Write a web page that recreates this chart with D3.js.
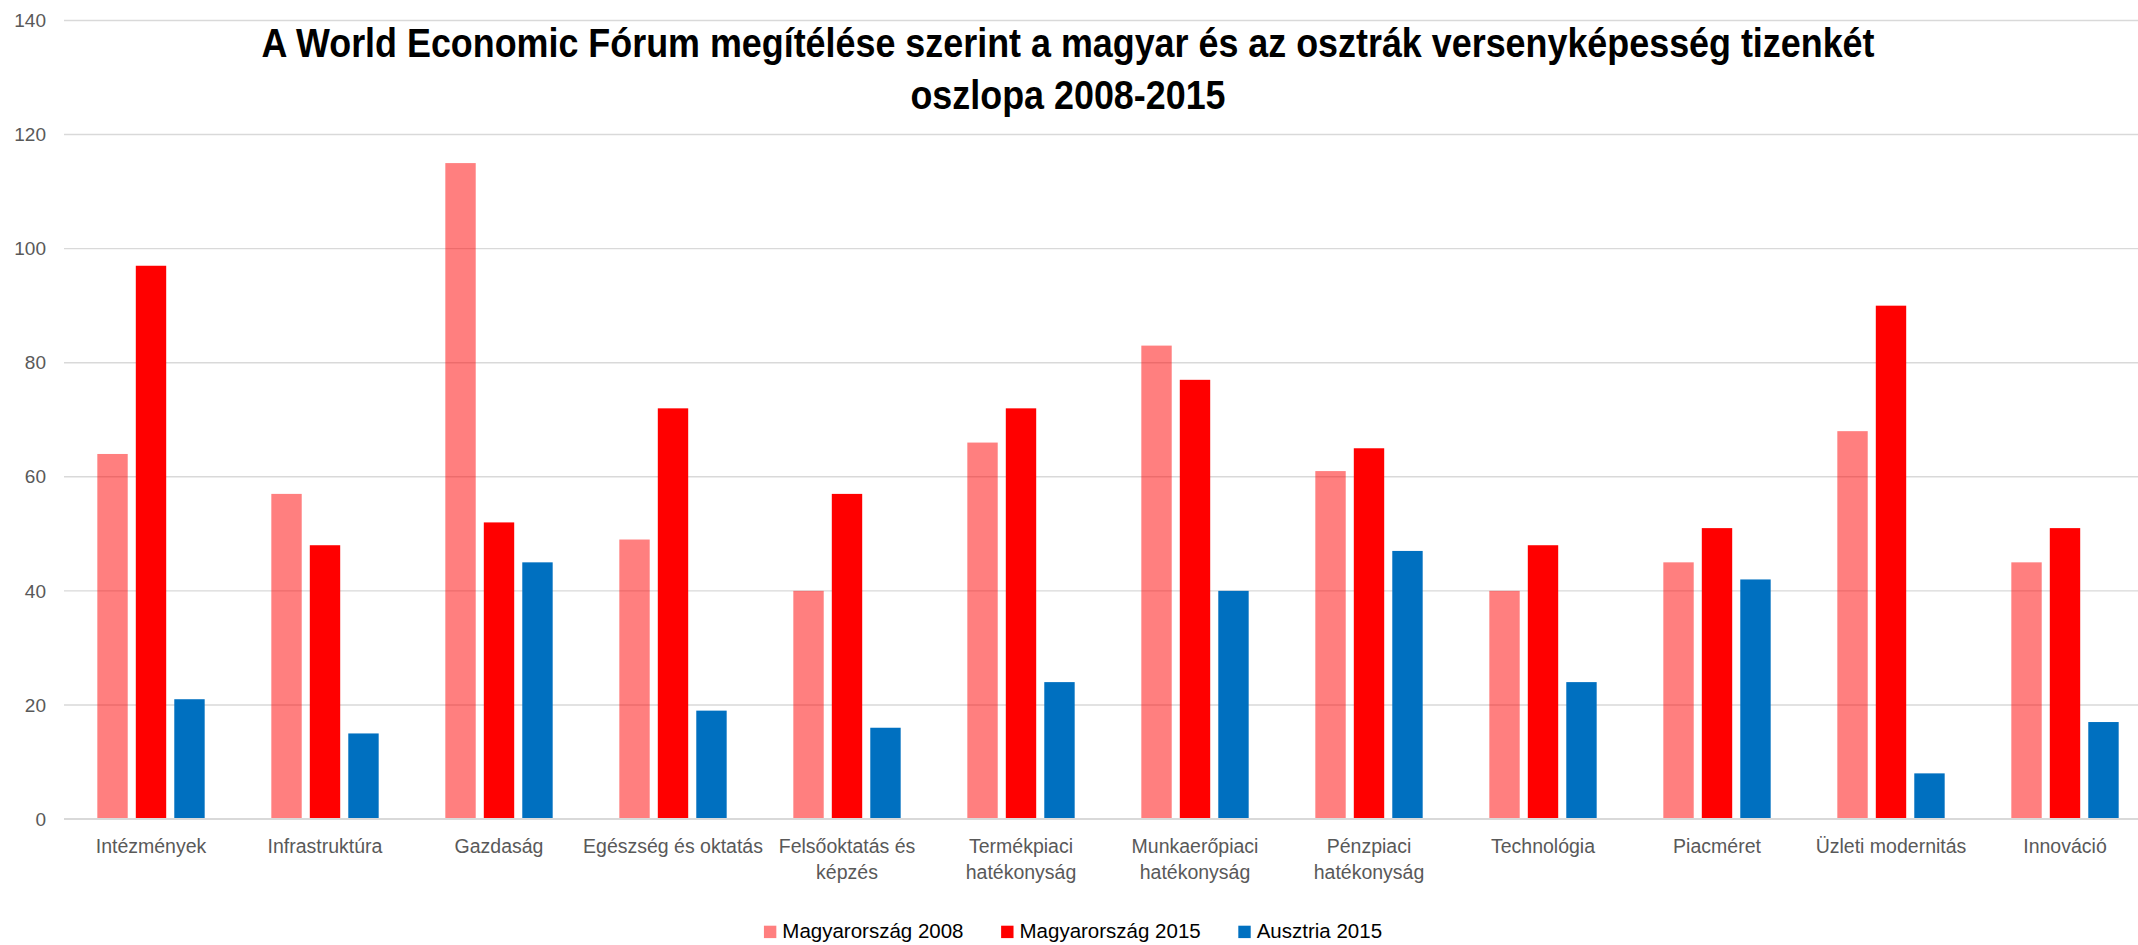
<!DOCTYPE html>
<html>
<head>
<meta charset="utf-8">
<script src="https://cdn.jsdelivr.net/npm/d3@7"></script>
<style>
  html, body { margin: 0; padding: 0; background: #fff; }
  #chart svg { display: block; }
</style>
</head>
<body>
<div id="chart"></div>
<script>
const categories = [
  "Intézmények",
  "Infrastruktúra",
  "Gazdaság",
  "Egészség és oktatás",
  "Felsőoktatás és képzés",
  "Termékpiaci hatékonyság",
  "Munkaerőpiaci hatékonyság",
  "Pénzpiaci hatékonyság",
  "Technológia",
  "Piacméret",
  "Üzleti modernitás",
  "Innováció",
];

const seriesNames = ["Magyarország 2008", "Magyarország 2015", "Ausztria 2015"];

const hu2008 = [64, 57, 115, 49, 40, 66, 83, 61, 40, 45, 68, 45];
const hu2015 = [97, 48, 52, 72, 57, 72, 77, 65, 48, 51, 90, 51];
const at2015 = [21, 15, 45, 19, 16, 24, 40, 47, 24, 42, 8, 17];

const yTicks = [0, 20, 40, 60, 80, 100, 120, 140];

const titleLines = [
  "A World Economic Fórum megítélése szerint a magyar és az osztrák versenyképesség tizenkét",
  "oszlopa 2008-2015",
];

const width = 2138;
const height = 945;
const margin = { top: 20.5, left: 64, bottom: 126 };

const seriesValues = [hu2008, hu2015, at2015];
const colors = ["#ff0000", "#ff0000", "#0070c0"];
const opacities = [0.5, 1, 1];

const svg = d3
  .select("#chart")
  .append("svg")
  .attr("width", width)
  .attr("height", height)
  .style("font-family", '"Liberation Sans", Arial, sans-serif');

// plot area runs a bit past the right edge, like the original
const x0 = d3
  .scaleBand()
  .domain(categories)
  .range([margin.left, margin.left + 174 * categories.length])
  .paddingInner(0.383)
  .paddingOuter(0.1915);

const x1 = d3
  .scaleBand()
  .domain(seriesNames)
  .range([0, x0.bandwidth()])
  .paddingInner(0.21);

const y = d3
  .scaleLinear()
  .domain([0, 140])
  .range([height - margin.bottom, margin.top]);

// gridlines
svg
  .append("g")
  .selectAll("line")
  .data(yTicks.filter((d) => d > 0))
  .join("line")
  .attr("x1", margin.left)
  .attr("x2", width)
  .attr("y1", (d) => y(d))
  .attr("y2", (d) => y(d))
  .attr("stroke", "#d9d9d9")
  .attr("stroke-width", 1.4);

// y tick labels
svg
  .append("g")
  .selectAll("text")
  .data(yTicks)
  .join("text")
  .attr("x", 46)
  .attr("y", (d) => y(d))
  .attr("dy", "0.35em")
  .attr("text-anchor", "end")
  .style("font-size", "19px")
  .style("fill", "#595959")
  .text((d) => d);

// bars
const groups = svg
  .append("g")
  .selectAll("g")
  .data(seriesNames)
  .join("g")
  .attr("fill", (_, i) => colors[i])
  .attr("fill-opacity", (_, i) => opacities[i]);

groups
  .selectAll("rect")
  .data((name, i) => categories.map((c, j) => ({ cat: c, name, value: seriesValues[i][j] })))
  .join("rect")
  .attr("x", (d) => x0(d.cat) + x1(d.name))
  .attr("width", x1.bandwidth())
  .attr("y", (d) => y(d.value))
  .attr("height", (d) => y(0) - y(d.value));

// zero axis line
svg
  .append("line")
  .attr("x1", margin.left)
  .attr("x2", width)
  .attr("y1", y(0))
  .attr("y2", y(0))
  .attr("stroke", "#d9d9d9")
  .attr("stroke-width", 2);

// category labels, wrapped to the band width
const catLabels = svg
  .append("g")
  .selectAll("text")
  .data(categories)
  .join("text")
  .attr("text-anchor", "middle")
  .attr("transform", (d) => `translate(${x0(d) + x0.bandwidth() / 2}, ${y(0) + 34})`)
  .style("font-size", "19.5px")
  .style("fill", "#595959");

catLabels.each(function (d) {
  const el = d3.select(this);
  const words = d.split(" ");
  let line = [];
  let tspan = el.append("tspan").attr("x", 0).attr("dy", 0);
  words.forEach((w) => {
    line.push(w);
    tspan.text(line.join(" "));
    if (tspan.node().getComputedTextLength() > 196 && line.length > 1) {
      line.pop();
      tspan.text(line.join(" "));
      line = [w];
      tspan = el.append("tspan").attr("x", 0).attr("dy", 25.5).text(w);
    }
  });
});

// title, squeezed a little to get the narrow look of the original
svg
  .append("g")
  .selectAll("text")
  .data(titleLines)
  .join("text")
  .attr("x", 1068)
  .attr("y", (_, i) => 57 + i * 52)
  .attr("text-anchor", "middle")
  .style("font-weight", "bold")
  .style("font-size", "41px")
  .style("fill", "#000")
  .text((d) => d)
  .each(function () {
    const len = this.getComputedTextLength();
    d3.select(this)
      .attr("textLength", len * 0.875)
      .attr("lengthAdjust", "spacingAndGlyphs");
  });

// legend
const legend = svg.append("g");
const items = legend
  .selectAll("g")
  .data(seriesNames)
  .join("g");

items
  .append("rect")
  .attr("width", 12.4)
  .attr("height", 12.4)
  .attr("y", -12)
  .attr("fill", (_, i) => colors[i])
  .attr("fill-opacity", (_, i) => opacities[i]);

items
  .append("text")
  .attr("x", 18.4)
  .style("font-size", "20.5px")
  .style("fill", "#000")
  .text((d) => d);

let offset = 0;
items.each(function () {
  const w = this.getBBox().width;
  d3.select(this).attr("transform", `translate(${offset}, 0)`);
  offset += w + 37.6;
});
const legendWidth = offset - 37.6;
legend.attr("transform", `translate(${1073 - legendWidth / 2}, 937.7)`);
</script>
</body>
</html>
